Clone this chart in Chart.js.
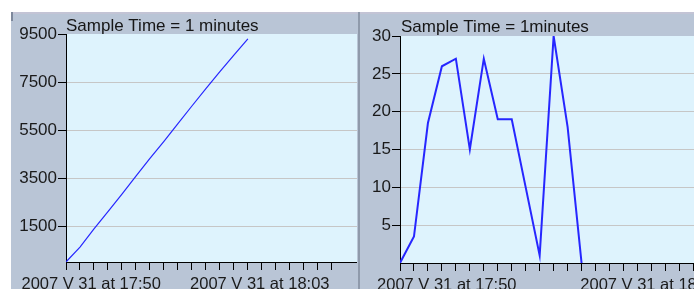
<!DOCTYPE html>
<html>
<head>
<meta charset="utf-8">
<script src="https://cdn.jsdelivr.net/npm/chart.js@4"></script>
<style>
  body { margin: 0; background: #fff; width: 694px; height: 289px; overflow: hidden; position: relative; font-family: "Liberation Sans", Arial, sans-serif; }
  #panel { position: absolute; left: 11px; top: 12px; width: 683px; height: 277px; background: #b9c5d6; border-top: 2px solid #c3c4d5; box-sizing: border-box; }
  #mark { position: absolute; left: 11px; top: 12px; width: 2px; height: 9px; background: #7d889c; }
  #sep { position: absolute; left: 358px; top: 12px; width: 2px; height: 277px; background: #8f9aab; }
  canvas { position: absolute; top: 12px; }
  #c1 { left: 11px; }
  #c2 { left: 360px; }
</style>
</head>
<body>
<div id="panel"></div>
<div id="mark"></div>
<div id="sep"></div>
<canvas id="c1" width="346" height="277"></canvas>
<canvas id="c2" width="334" height="277"></canvas>
<script>
// sample index along the time axis
const sampleIdx = [0, 1, 2, 3, 4, 5, 6, 7, 8, 9, 10, 11, 12, 13];
const leftValues = [0, 620, 1380, 2100, 2830, 3580, 4320, 5030, 5770, 6500, 7220, 7930, 8620, 9300];
const rightValues = [0, 3.5, 18.5, 26, 27, 15, 27, 19, 19, 10, 1, 30, 18, 0];

const leftYTicks = [1500, 3500, 5500, 7500, 9500];
const rightYTicks = [5, 10, 15, 20, 25, 30];
const leftXTicks = [0,1,2,3,4,5,6,7,8,9,10,11,12,13,14,15,16,17,18,19];
const rightXTicks = [0,1,2,3,4,5,6,7,8,9,10,11,12,13,14,15,16,17,18,19,20,21];
const xLabels = ['2007 V 31 at 17:50', '2007 V 31 at 18:03'];
const leftXLabelAt = [1.8, 13.85];
const rightXLabelAt = [3.35, 17.9];
const leftTitle = 'Sample Time = 1 minutes';
const rightTitle = 'Sample Time = 1minutes';

const FONT = 'Liberation Sans';

const panelPlugin = {
  id: 'panel',
  beforeDraw(chart) {
    const a = chart.chartArea, c = chart.ctx;
    c.save();
    c.fillStyle = '#def3fd';
    c.fillRect(a.left, a.top, a.right - a.left, a.bottom - a.top);
    c.restore();
  },
  afterDraw(chart, args, opts) {
    const a = chart.chartArea, c = chart.ctx;
    c.save();
    c.font = '17px "' + FONT + '"';
    c.fillStyle = '#161616';
    c.textBaseline = 'alphabetic';
    c.fillText(opts.text, a.left + opts.dx, a.top - opts.dy);
    c.restore();
  }
};

function makeChart(id, values, cfg) {
  return new Chart(document.getElementById(id), {
    type: 'line',
    data: {
      datasets: [{
        data: sampleIdx.map((x, i) => ({ x: x, y: values[i] })),
        borderColor: '#2626ff',
        borderWidth: cfg.lineWidth,
        pointRadius: 0,
        tension: 0,
        fill: false
      }]
    },
    plugins: [panelPlugin],
    options: {
      responsive: false,
      animation: false,
      devicePixelRatio: 1,
      layout: { padding: { top: cfg.top, left: 0, right: 0, bottom: 0 } },
      plugins: {
        legend: { display: false },
        tooltip: { enabled: false },
        panel: { text: cfg.title, dx: cfg.titleDx, dy: cfg.titleDy }
      },
      scales: {
        x: {
          type: 'linear',
          min: 0,
          max: cfg.xMax,
          afterBuildTicks: (s) => { s.ticks = cfg.xTicks.concat(cfg.labelAt).map(v => ({ value: v })); },
          afterFit: (s) => { s.height = cfg.xHeight; s.paddingLeft = 0; s.paddingRight = 0; },
          grid: {
            drawOnChartArea: false,
            tickLength: 8,
            tickColor: (ctx) => (ctx.tick && cfg.labelAt.includes(ctx.tick.value)) ? 'rgba(0,0,0,0)' : '#000'
          },
          border: { color: '#000', width: 1 },
          ticks: {
            autoSkip: false,
            maxRotation: 0,
            padding: 4.5,
            color: '#1a1a1a',
            font: { family: FONT, size: 16.5 },
            callback: (v) => { const i = cfg.labelAt.indexOf(v); return i >= 0 ? xLabels[i] : ''; }
          }
        },
        y: {
          min: 0,
          max: cfg.yMax,
          afterBuildTicks: (s) => { s.ticks = cfg.yTicks.map(v => ({ value: v })); },
          afterFit: (s) => { s.width = cfg.yWidth; s.paddingTop = 0; s.paddingBottom = 0; },
          grid: {
            color: (ctx) => (ctx.tick && ctx.tick.value === cfg.yMax) ? 'rgba(0,0,0,0)' : '#c6c6c6',
            tickColor: '#000',
            tickLength: 8
          },
          border: { color: '#000', width: 1 },
          ticks: {
            padding: 1,
            color: '#1a1a1a',
            font: { family: FONT, size: 17 },
            callback: (v) => String(v)
          }
        }
      }
    }
  });
}

makeChart('c1', leftValues, {
  title: leftTitle, titleDx: 0, titleDy: 3.5, top: 22, lineWidth: 1.2,
  xMax: 20.8, xTicks: leftXTicks, labelAt: leftXLabelAt, xHeight: 27,
  yMax: 9500, yTicks: leftYTicks, yWidth: 55
});

makeChart('c2', rightValues, {
  title: rightTitle, titleDx: 1, titleDy: 4.3, top: 24, lineWidth: 2,
  xMax: 21.05, xTicks: rightXTicks, labelAt: rightXLabelAt, xHeight: 26,
  yMax: 30, yTicks: rightYTicks, yWidth: 40
});
</script>
</body>
</html>
